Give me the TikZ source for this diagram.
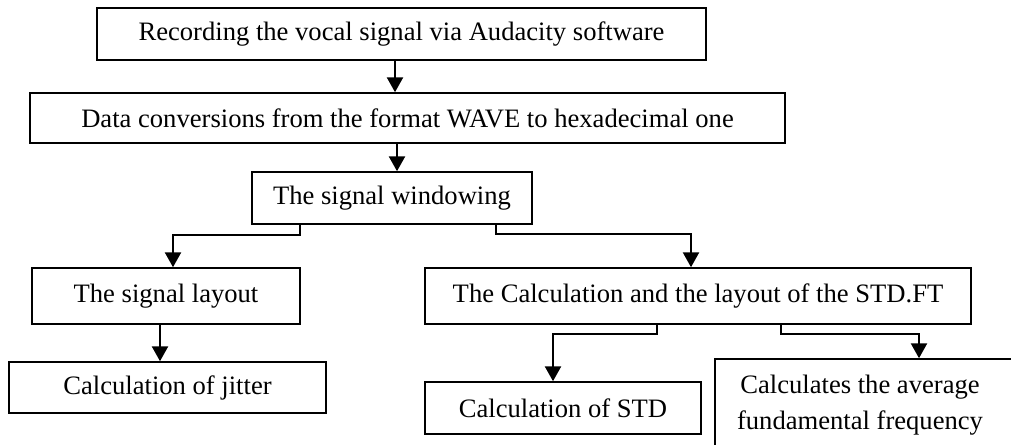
\documentclass[tikz,border=0pt]{standalone}
\usepackage{fontspec}
\setmainfont{Liberation Serif}
\usetikzlibrary{arrows.meta}
\begin{document}
\begin{tikzpicture}[x=1pt,y=-1pt,
  box/.style={draw,line width=1.5pt,inner sep=0pt,font=\fontsize{26.6}{36}\selectfont},
  conn/.style={line width=2.5pt,-{Triangle[width=16pt,length=15pt]}}]
\useasboundingbox (0,0) rectangle (1011,444);
\clip (0,0) rectangle (1011,444);
\node[box,minimum width=609pt,minimum height=52pt] (b1) at (401.5,34) {Recording the vocal signal via Audacity software};
\node[box,minimum width=755pt,minimum height=50pt] (b2) at (407.5,118) {Data conversions from the format WAVE to hexadecimal one};
\node[box,minimum width=280pt,minimum height=52pt] (b3) at (392,198) {The signal windowing};
\node[box,minimum width=268pt,minimum height=56pt] (b4) at (166,296) {The signal layout};
\node[box,minimum width=317pt,minimum height=51pt] (b5) at (167.5,387.5) {Calculation of jitter};
\node[box,minimum width=546pt,minimum height=56pt] (b6) at (698,296) {The Calculation and the layout of the STD.FT};
\node[box,minimum width=276pt,minimum height=52pt] (b7) at (563,408) {Calculation of STD};
\node[box,minimum width=310pt,minimum height=100pt,
  label={[align=center,inner sep=0pt,font=\fontsize{26.6}{36}\selectfont,xshift=-10pt,yshift=4pt]center:Calculates the average\\fundamental frequency}] (b8) at (870,409) {};
\draw[conn] ([xshift=-6.5pt]b1.south) -- ([xshift=-6.5pt]b1.south |- b2.north);
\draw[conn] ([xshift=-10.5pt]b2.south) -- ([xshift=-10.5pt]b2.south |- b3.north);
\draw[conn] ([xshift=-92pt]b3.south) -- ++(0,10) -| ([xshift=7pt]b4.north);
\draw[conn] ([xshift=104pt]b3.south) -- ++(0,9) -| ([xshift=-7pt]b6.north);
\draw[conn] ([xshift=-6pt]b4.south) -- ([xshift=-6pt]b4.south |- b5.north);
\draw[conn] ([xshift=-41pt]b6.south) -- ++(0,9) -| ([xshift=-10pt]b7.north);
\draw[conn] ([xshift=83pt]b6.south) -- ++(0,9) -| ([xshift=49pt]b8.north);
\end{tikzpicture}
\end{document}
